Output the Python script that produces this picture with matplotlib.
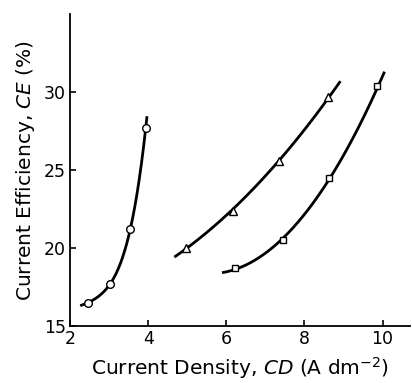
import numpy as np
import matplotlib
matplotlib.use("Agg")
import matplotlib.pyplot as plt

# measured points (current density, current efficiency)
circ_cd = [2.46, 3.03, 3.54, 3.94]
circ_ce = [16.5, 17.7, 21.2, 27.7]
tri_cd = [4.97, 6.16, 7.34, 8.60]
tri_ce = [20.0, 22.4, 25.6, 29.7]
sq_cd = [6.23, 7.45, 8.64, 9.85]
sq_ce = [18.7, 20.5, 24.5, 30.4]

# where the hand-drawn curves start and end
circ_ends = [(2.26, 16.3), (3.97, 28.5)]
tri_ends = [(4.67, 19.4), (8.92, 30.6)]
sq_ends = [(5.89, 18.4), (10.05, 31.1)]

x_ticks = [2, 4, 6, 8, 10]
y_ticks = [15, 20, 25, 30]


def smooth_curve(xs, ys, ends, deg):
    # fit through the markers plus the curve ends, then draw across the ends
    fx = list(xs) + [e[0] for e in ends]
    fy = list(ys) + [e[1] for e in ends]
    coef = np.polyfit(fx, fy, deg)
    xx = np.linspace(ends[0][0], ends[1][0], 200)
    return xx, np.polyval(coef, xx)


fig = plt.figure(figsize=(4.12, 3.83), dpi=100)
ax = fig.add_axes([0.170, 0.149, 0.825, 0.814])

for xs, ys, ends, deg, mk, ms in [
    (circ_cd, circ_ce, circ_ends, 4, "o", 5.5),
    (tri_cd, tri_ce, tri_ends, 2, "^", 6),
    (sq_cd, sq_ce, sq_ends, 2, "s", 4.5),
]:
    xx, yy = smooth_curve(xs, ys, ends, deg)
    ax.plot(xx, yy, color="black", lw=2.0, solid_capstyle="butt", zorder=2)
    ax.plot(xs, ys, ls="none", marker=mk, ms=ms, mfc="white",
            mec="black", mew=1.0, zorder=3)

ax.set_xlim(2, 10.7)
ax.set_ylim(15, 35)
ax.set_xticks(x_ticks)
ax.set_yticks(y_ticks)
ax.spines["top"].set_visible(False)
ax.spines["right"].set_visible(False)
for s in ["left", "bottom"]:
    ax.spines[s].set_linewidth(1.3)
ax.tick_params(direction="in", length=4, width=1.2, labelsize=12.5, pad=3)

ax.set_xlabel("Current Density, $\\mathit{CD}$ (A dm$^{-2}$)", fontsize=14.5, labelpad=5)
ax.set_ylabel("Current Efficiency, $\\mathit{CE}$ (%)", fontsize=14.5, labelpad=5)

fig.savefig("out.png", dpi=100)
